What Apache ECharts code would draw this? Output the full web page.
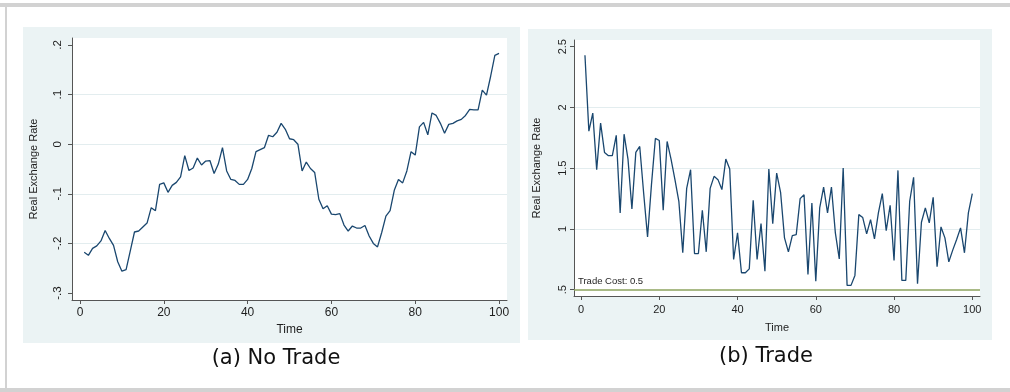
<!DOCTYPE html>
<html>
<head>
<meta charset="utf-8">
<script src="https://cdn.jsdelivr.net/npm/echarts@6/dist/echarts.min.js"></script>
<style>
html,body{margin:0;padding:0;background:#fff;}
#c{width:1010px;height:392px;}
</style>
</head>
<body>
<div id="c"></div>
<script>
// ---- data ----
const time = [1,2,3,4,5,6,7,8,9,10,11,12,13,14,15,16,17,18,19,20,21,22,23,24,25,26,27,28,29,30,31,32,33,34,35,36,37,38,39,40,41,42,43,44,45,46,47,48,49,50,51,52,53,54,55,56,57,58,59,60,61,62,63,64,65,66,67,68,69,70,71,72,73,74,75,76,77,78,79,80,81,82,83,84,85,86,87,88,89,90,91,92,93,94,95,96,97,98,99,100];

const noTradeRate = [-0.218,-0.224,-0.210,-0.205,-0.195,-0.174,-0.190,-0.204,-0.237,-0.256,
  -0.253,-0.215,-0.177,-0.175,-0.167,-0.159,-0.128,-0.134,-0.081,-0.078,
  -0.097,-0.083,-0.077,-0.066,-0.023,-0.053,-0.048,-0.028,-0.042,-0.034,
  -0.033,-0.059,-0.040,-0.007,-0.054,-0.071,-0.073,-0.081,-0.081,-0.071,
  -0.049,-0.015,-0.011,-0.007,0.018,0.015,0.024,0.042,0.030,0.011,
  0.009,0.000,-0.054,-0.036,-0.049,-0.057,-0.111,-0.130,-0.124,-0.141,
  -0.142,-0.140,-0.163,-0.175,-0.165,-0.169,-0.169,-0.164,-0.185,-0.200,
  -0.207,-0.178,-0.145,-0.134,-0.093,-0.071,-0.078,-0.054,-0.015,-0.022,
  0.035,0.044,0.019,0.063,0.058,0.042,0.022,0.040,0.042,0.047,
  0.050,0.058,0.070,0.069,0.069,0.109,0.099,0.137,0.179,0.183];

const tradeRate = [2.429,1.805,1.953,1.488,1.871,1.630,1.603,1.603,1.770,1.132,
  1.780,1.575,1.165,1.630,1.679,1.296,0.935,1.365,1.745,1.728,
  1.154,1.720,1.575,1.406,1.228,0.804,1.334,1.488,0.798,0.798,
  1.154,0.812,1.334,1.433,1.406,1.324,1.575,1.493,0.749,0.968,
  0.640,0.640,0.672,1.236,0.749,1.044,0.653,1.493,1.044,1.460,
  1.302,0.927,0.812,0.946,0.954,1.250,1.282,0.626,1.214,0.571,
  1.173,1.345,1.132,1.345,0.968,0.754,1.501,0.536,0.536,0.618,
  1.118,1.094,0.960,1.077,0.919,1.132,1.291,0.987,1.195,0.741,
  1.482,0.577,0.577,1.228,1.425,0.549,1.055,1.173,1.050,1.261,
  0.689,1.017,0.927,0.730,0.826,0.913,1.009,0.804,1.132,1.291];

const tradeCost = 0.5;
const xTicks = [0,20,40,60,80,100];
const yTicksLeft = [-0.3,-0.2,-0.1,0,0.1,0.2];
const yTicksRight = [0.5,1,1.5,2,2.5];
const captionLeft = '(a) No Trade';
const captionRight = '(b) Trade';
const yTitle = 'Real Exchange Rate';
const xTitle = 'Time';
const tradeCostLabel = 'Trade Cost: 0.5';

// ---- helpers ----
function stataFmt(v){
  let s = String(Math.round(v*100)/100);
  if (s === '0') return '0';
  return s.replace(/^(-?)0\./, '$1.');
}
function pairs(xs, ys){ return xs.map((x,i)=>[x, ys[i]]); }

const LINE = '#1a476f';
const AXIS = '#555';
const TXT = '#1e1e1e';
const GRIDC = '#e3edef';
const FONT = 'Liberation Sans, Arial, sans-serif';

function xAxisCfg(gi, min, max, labelMargin, nameGap, nameSize, labelSize){
  return {
    type:'value', gridIndex:gi, min:min, max:max,
    axisLine:{show:true, onZero:false, lineStyle:{color:AXIS, width:1}},
    axisTick:{show:true, length:4, customValues:xTicks, lineStyle:{color:AXIS}},
    axisLabel:{customValues:xTicks, margin:labelMargin, color:TXT, fontSize:labelSize, fontFamily:FONT},
    splitLine:{show:false},
    name:xTitle, nameLocation:'middle', nameGap:nameGap,
    nameTextStyle:{color:TXT, fontSize:nameSize, fontFamily:FONT}
  };
}
function yAxisCfg(gi, min, max, ticks, labelMargin, nameGap, labelSize, nameSize){
  return {
    type:'value', gridIndex:gi, min:min, max:max,
    axisLine:{show:true, onZero:false, lineStyle:{color:AXIS, width:1}},
    axisTick:{show:true, length:4, customValues:ticks, lineStyle:{color:AXIS}},
    axisLabel:{customValues:ticks, rotate:90, margin:labelMargin, color:TXT, fontSize:labelSize, fontFamily:FONT,
      formatter:stataFmt},
    splitLine:{show:true, showMinLine:false, showMaxLine:false, lineStyle:{color:GRIDC, width:1}},
    name:yTitle, nameLocation:'middle', nameRotate:90, nameGap:nameGap,
    nameTextStyle:{color:TXT, fontSize:nameSize, fontFamily:FONT}
  };
}

const chart = echarts.init(document.getElementById('c'), null, {renderer:'canvas'});
const option = {
  animation:false,
  backgroundColor:'#ffffff',
  graphic:[
    // outer frame
    {type:'rect', z:-10, shape:{x:0,y:3,width:1010,height:4}, style:{fill:'#d2d2d2'}},
    {type:'rect', z:-10, shape:{x:5,y:3,width:2,height:389}, style:{fill:'#d2d2d2'}},
    {type:'rect', z:-10, shape:{x:0,y:388,width:1010,height:4}, style:{fill:'#d2d2d2'}},
    // panel backgrounds
    {type:'rect', z:-9, shape:{x:23,y:27,width:497,height:316}, style:{fill:'#ebf3f4'}},
    {type:'rect', z:-9, shape:{x:528,y:29,width:464,height:311}, style:{fill:'#ebf3f4'}},
    // captions
    {type:'text', x:276, y:359, style:{text:captionLeft, fontSize:21, fontFamily:'DejaVu Sans', fill:'#111', align:'center', verticalAlign:'middle'}},
    {type:'text', x:766, y:357, style:{text:captionRight, fontSize:21, fontFamily:'DejaVu Sans', fill:'#111', align:'center', verticalAlign:'middle'}}
  ],
  grid:[
    {left:72, top:38, width:435, height:262, show:true, backgroundColor:'#ffffff', borderWidth:0},
    {left:574, top:40, width:406, height:256, show:true, backgroundColor:'#ffffff', borderWidth:0}
  ],
  xAxis:[
    xAxisCfg(0, -1.91, 101.9, 7, 17, 12, 12),
    xAxisCfg(1, -1.8, 101.97, 8, 26, 11, 11)
  ],
  yAxis:[
    yAxisCfg(0, -0.3141, 0.2141, yTicksLeft, 8, 33, 11.5, 11),
    yAxisCfg(1, 0.4485, 2.555, yTicksRight, 6, 32, 11, 11)
  ],
  series:[
    {type:'line', xAxisIndex:0, yAxisIndex:0, data:pairs(time, noTradeRate), showSymbol:false,
      lineStyle:{color:LINE, width:1.3}, itemStyle:{color:LINE}},
    {type:'line', xAxisIndex:1, yAxisIndex:1, data:pairs(time, tradeRate), showSymbol:false,
      lineStyle:{color:LINE, width:1.3}, itemStyle:{color:LINE},
      markLine:{silent:true, symbol:['none','none'],
        lineStyle:{color:'#8da35e', width:1.6, type:'solid'},
        label:{show:true, position:'insideStartTop', formatter:tradeCostLabel, color:TXT, fontSize:9.5, fontFamily:FONT, distance:[4,3]},
        data:[{yAxis:tradeCost}]}
    }
  ]
};
chart.setOption(option);
</script>
</body>
</html>
